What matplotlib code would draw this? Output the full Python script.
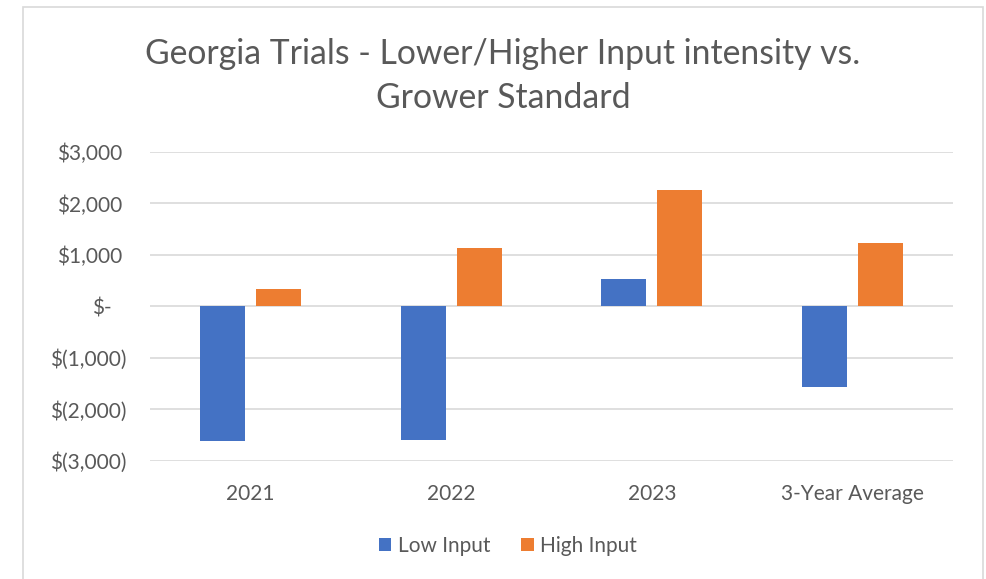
import matplotlib
matplotlib.use("Agg")
import matplotlib.pyplot as plt
import numpy as np
from matplotlib.patches import Rectangle
from matplotlib.transforms import ScaledTranslation

categories = ["2021", "2022", "2023", "3-Year Average"]
low_input = [-2620, -2600, 540, -1560]
high_input = [330, 1130, 2255, 1238]
y_ticks = [-3000, -2000, -1000, 0, 1000, 2000, 3000]
y_tick_labels = ["$(3,000)", "$(2,000)", "$(1,000)", "$-", "$1,000", "$2,000", "$3,000"]
series_names = ["Low Input", "High Input"]
title = "Georgia Trials - Lower/Higher Input intensity vs.\nGrower Standard"

FONT = "Lato"
TXT = "#595959"
BLUE = "#4472C4"
ORANGE = "#ED7D31"
GRID = "#D9D9D9"
FS = 15

W, H = 987, 579
fig = plt.figure(figsize=(W / 100, H / 100), dpi=100)

# chart frame
fig.patches.append(Rectangle((23 / W, -0.1), (983 - 23) / W, 1.1 - 7 / H,
                             transform=fig.transFigure, fill=False,
                             edgecolor=GRID, linewidth=1.2))

left, right = 150 / W, 953 / W
top, bottom = 1 - 152 / H, 1 - 460.7 / H
ax = fig.add_axes([left, bottom, right - left, top - bottom])

x = np.arange(len(categories))
bw = 0.224
off = 0.139
ax.bar(x - off, low_input, bw, color=BLUE, label=series_names[0], zorder=3)
ax.bar(x + off, high_input, bw, color=ORANGE, label=series_names[1], zorder=3)

ax.set_xlim(-0.5, len(categories) - 0.5)
ax.set_ylim(-3000, 3000)
ax.set_yticks(y_ticks)
ax.set_yticklabels(y_tick_labels, fontsize=FS, color=TXT, family=FONT)
ax.set_xticks(x)
ax.set_xticklabels(categories, fontsize=FS, color=TXT, family=FONT)
ax.tick_params(axis="both", length=0)
ax.tick_params(axis="x", pad=17)
ax.tick_params(axis="y", pad=0)

# accounting-format style alignment of y labels
for lab in ax.get_yticklabels():
    t = lab.get_text()
    if t == "$-":
        p = 38
    elif "(" in t:
        p = 23
    else:
        p = 28
    lab.set_transform(lab.get_transform() + ScaledTranslation(-p / 100, 0, fig.dpi_scale_trans))

ax.grid(axis="y", color=GRID, linewidth=1.2, zorder=0)
for s in ax.spines.values():
    s.set_visible(False)

fig.text(503 / W, 1 - 76 / H, title, ha="center", va="center", fontsize=24.3,
         color=TXT, family=FONT, linespacing=1.45)

leg = fig.legend(loc="center", bbox_to_anchor=(508 / W, 1 - 546 / H), ncol=2,
                 frameon=False, prop={"family": FONT, "size": FS},
                 handlelength=0.6, handleheight=0.6, handletextpad=0.3,
                 columnspacing=1.5)
for t in leg.get_texts():
    t.set_color(TXT)

fig.savefig("out.png", dpi=100)
